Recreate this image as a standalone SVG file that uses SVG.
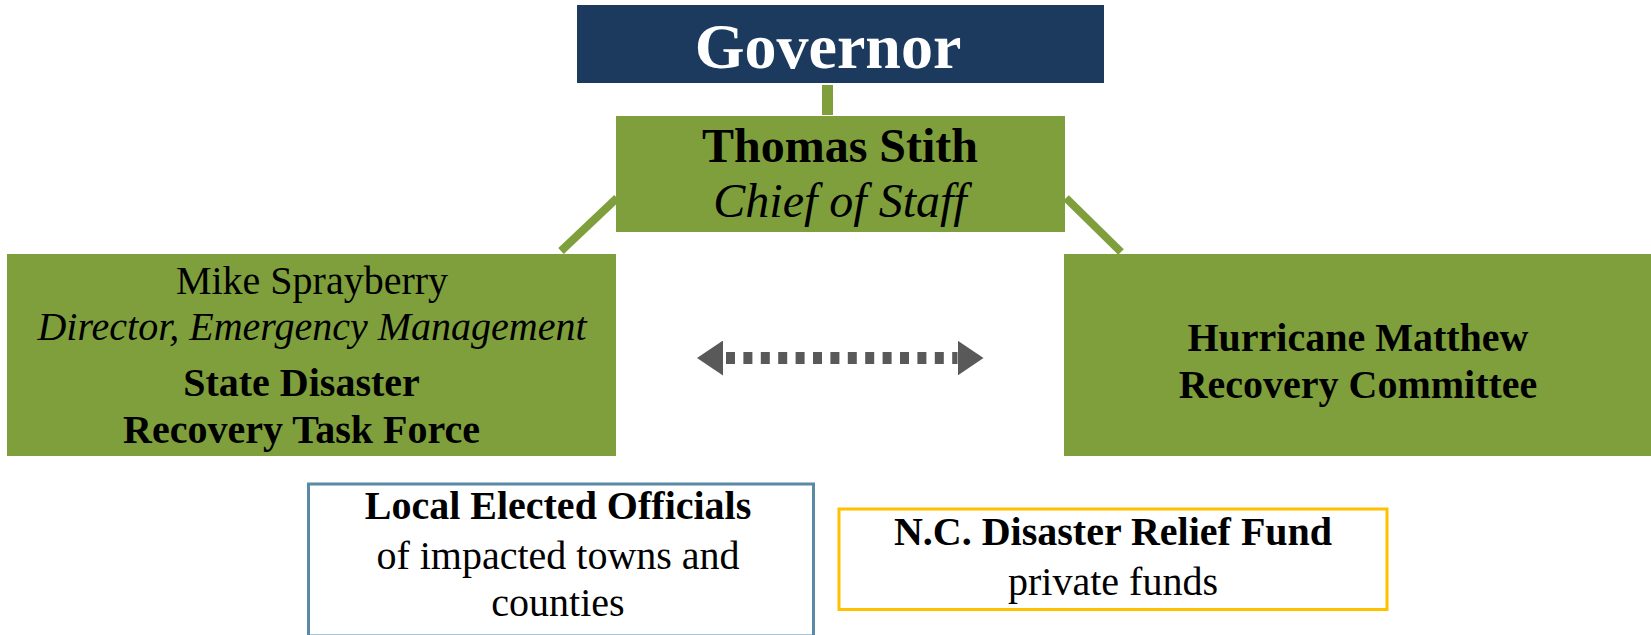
<svg xmlns="http://www.w3.org/2000/svg" width="1651" height="635" viewBox="0 0 1651 635">
<style>
text{font-family:"Liberation Serif","Times New Roman",serif;text-anchor:middle;fill:#000}
.b{font-weight:bold}
.i{font-style:italic}
.green{fill:#7e9f3c}
.link{stroke:#7e9f3c;fill:none}
.t40{font-size:40px}
</style>
<defs>
<marker id="ah" viewBox="0 0 26 35" refX="0" refY="17.5" markerWidth="26" markerHeight="35" markerUnits="userSpaceOnUse" orient="auto-start-reverse">
<path d="M0,0 L26,17.5 L0,35 z" fill="#595959"/>
</marker>
</defs>
<rect width="1651" height="635" fill="#fff"/>
<g id="connectors">
<line class="link" x1="827.5" y1="85" x2="827.5" y2="115" stroke-width="11"/>
<line class="link" x1="617" y1="198" x2="561" y2="251" stroke-width="8"/>
<line class="link" x1="1066" y1="198" x2="1121" y2="252" stroke-width="8"/>
<line x1="723" y1="358" x2="957.5" y2="358" stroke="#595959" stroke-width="12" stroke-dasharray="9 8.4" stroke-dashoffset="14.4" marker-start="url(#ah)" marker-end="url(#ah)"/>
</g>
<g id="governor">
<rect x="577" y="5" width="527" height="78" fill="#1b3a5e"/>
<text x="828" y="68" class="b" style="font-size:64px;fill:#fff">Governor</text>
</g>
<g id="chief">
<rect class="green" x="616" y="116" width="449" height="116"/>
<text x="840" y="162" class="b" style="font-size:48px">Thomas Stith</text>
<text x="840" y="217" class="i" style="font-size:48px">Chief of Staff</text>
</g>
<g id="taskforce">
<rect class="green" x="7" y="254" width="609" height="202"/>
<text x="312" y="294" class="t40">Mike Sprayberry</text>
<text x="312" y="340" class="i t40">Director, Emergency Management</text>
<text x="301.5" y="396" class="b t40">State Disaster</text>
<text x="301.5" y="443" class="b t40">Recovery Task Force</text>
</g>
<g id="committee">
<rect class="green" x="1064" y="254" width="587" height="202"/>
<text x="1358" y="351" class="b t40">Hurricane Matthew</text>
<text x="1358" y="398" class="b t40">Recovery Committee</text>
</g>
<g id="local">
<rect x="308.5" y="484" width="505" height="152" fill="#fff" stroke="#5a8aa5" stroke-width="3"/>
<text x="558" y="519" class="b t40">Local Elected Officials</text>
<text x="558" y="569" class="t40">of impacted towns and</text>
<text x="558" y="616" class="t40">counties</text>
</g>
<g id="fund">
<rect x="839" y="509" width="548" height="100.5" fill="#fff" stroke="#ffc000" stroke-width="3"/>
<text x="1113" y="545" class="b t40">N.C. Disaster Relief Fund</text>
<text x="1113" y="595" class="t40">private funds</text>
</g>
</svg>
